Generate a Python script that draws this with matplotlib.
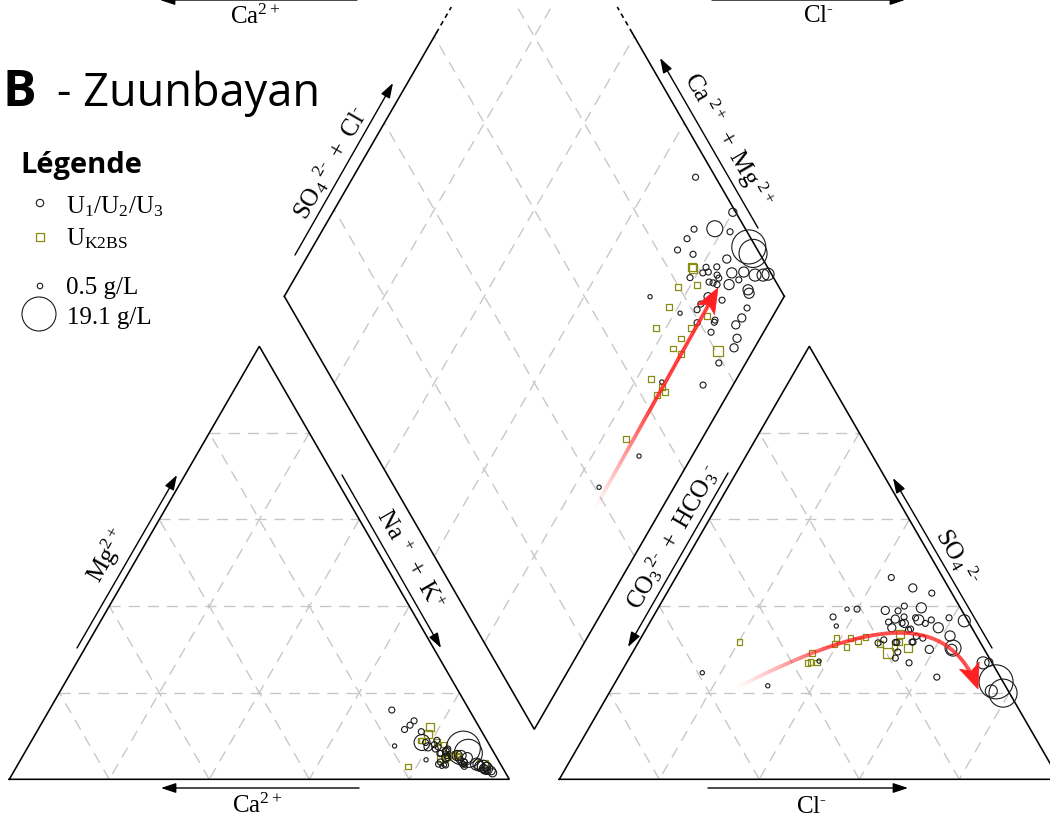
import numpy as np
import matplotlib
matplotlib.use("Agg")
import matplotlib.pyplot as plt
from matplotlib.collections import LineCollection
from matplotlib.patches import Polygon, Rectangle

plt.rcParams["mathtext.fontset"] = "custom"
plt.rcParams["mathtext.rm"] = "Liberation Serif"
plt.rcParams["mathtext.it"] = "Liberation Serif:italic"
plt.rcParams["mathtext.bf"] = "Liberation Serif:bold"

# ---------------- data (meq %) ----------------
# U1/U2/U3 samples (circles)
u_nak = [68.5, 80.0, 78.3, 74.2, 81.7, 73.9, 87.2, 88.8, 73.3, 76.9, 84.2, 81.0, 83.1, 81.0, 82.0, 79.0,
         84.1, 84.8, 86.8, 89.1, 91.7, 93.3, 94.2, 83.3, 84.2, 85.2, 87.6, 89.0, 92.0, 92.6, 84.8, 88.0,
         84.2, 73.2, 81.1, 84.1, 93.9, 94.0, 88.9, 89.0, 85.6, 93.6, 89.5, 95.4, 95.9, 94.6, 85.4, 94.0,
         89.4, 85.0]
u_mg = [16.0, 7.5, 8.5, 13.5, 7.0, 12.5, 7.2, 6.0, 11.5, 11.0, 6.5, 8.0, 6.0, 9.0, 7.5, 8.5,
        6.5, 5.5, 5.5, 5.0, 3.5, 3.0, 2.5, 6.0, 7.0, 5.0, 5.5, 4.0, 3.5, 3.0, 5.0, 4.5,
        4.0, 7.7, 4.5, 3.5, 2.0, 3.0, 3.5, 4.0, 3.3, 2.5, 3.0, 2.0, 1.5, 2.0, 3.3, 2.5,
        3.3, 3.0]
u_ca = [15.5, 12.5, 13.2, 12.3, 11.3, 13.6, 5.6, 5.2, 15.2, 12.1, 9.3, 11.0, 10.9, 10.0, 10.5, 12.5,
        9.4, 9.7, 7.7, 5.9, 4.8, 3.7, 3.3, 10.7, 8.8, 9.8, 6.9, 7.0, 4.5, 4.4, 10.2, 7.5,
        11.8, 19.1, 14.4, 12.4, 4.1, 3.0, 7.6, 7.0, 11.1, 3.9, 7.5, 2.6, 2.6, 3.4, 11.3, 3.5,
        7.3, 12.0]
u_so4 = [43.0, 27.0, 30.3, 46.6, 37.3, 38.9, 22.5, 19.9, 36.3, 36.1, 44.2, 37.5, 37.3, 31.7, 34.7, 31.6,
         32.6, 40.0, 39.6, 33.1, 20.4, 26.9, 36.6, 31.7, 23.6, 33.0, 36.8, 36.8, 30.0, 35.0, 39.0, 34.5,
         29.4, 35.4, 39.3, 32.2, 36.0, 30.0, 26.9, 31.6, 31.5, 36.0, 28.0, 37.0, 35.0, 39.3, 27.3, 37.5,
         21.6, 24.6]
u_cl = [53.0, 72.4, 63.6, 43.1, 59.3, 48.3, 76.1, 78.8, 47.7, 50.5, 48.6, 50.2, 52.6, 54.7, 52.9, 51.7,
        56.4, 49.0, 52.6, 61.6, 76.2, 71.3, 62.7, 54.9, 63.7, 54.9, 53.5, 56.0, 63.5, 58.3, 45.7, 52.6,
        53.0, 37.7, 37.9, 48.8, 55.2, 59.0, 56.5, 51.4, 48.0, 51.0, 53.2, 48.7, 49.0, 39.9, 38.3, 36.0,
        30.9, 16.3]
u_hco3 = [4.0, 0.6, 6.1, 10.3, 3.4, 12.8, 1.4, 1.3, 16.0, 13.4, 7.2, 12.3, 10.1, 13.6, 12.4, 16.7,
          11.0, 11.0, 7.8, 5.3, 3.4, 1.8, 0.7, 13.4, 12.7, 12.1, 9.7, 7.2, 6.5, 6.7, 15.3, 12.9,
          17.6, 26.9, 22.8, 19.0, 8.8, 11.0, 16.6, 17.0, 20.5, 13.0, 18.8, 14.3, 16.0, 20.8, 34.4, 26.5,
          47.5, 59.1]
u_tds = [0.6, 1.1, 4.2, 0.6, 0.6, 0.6, 19.1, 13.0, 0.6, 0.6, 1.1, 0.6, 0.6, 0.6, 0.6, 0.6,
         0.6, 0.6, 1.7, 1.7, 2.4, 2.4, 2.4, 0.6, 0.6, 0.6, 1.7, 0.6, 1.7, 1.7, 1.1, 0.6,
         0.6, 0.3, 0.3, 0.6, 0.6, 1.1, 0.6, 0.6, 0.6, 1.1, 0.6, 1.1, 1.1, 0.6, 0.3, 0.6,
         0.3, 0.3]

# U_K2BS samples (squares)
k_nak = [78.1, 78.5, 77.7, 81.2, 78.2, 78.0, 85.0, 86.8, 84.2, 83.8, 86.0, 93.0, 82.9, 85.9, 87.2, 84.8, 86.0]
k_mg = [12.0, 10.5, 9.0, 8.6, 3.0, 9.0, 5.0, 5.5, 6.0, 4.7, 6.0, 3.3, 8.0, 5.6, 5.1, 4.7, 5.5]
k_ca = [9.9, 11.0, 13.3, 10.2, 18.8, 13.0, 10.0, 7.7, 9.8, 11.5, 8.0, 3.7, 9.1, 8.5, 7.7, 10.5, 8.5]
k_so4 = [33.6, 30.3, 31.3, 31.7, 31.9, 31.3, 32.9, 30.6, 32.6, 32.6, 30.6, 29.2, 27.1, 26.9, 29.2, 31.7, 27.0]
k_cl = [51.3, 54.6, 48.5, 52.1, 43.8, 39.4, 44.8, 51.7, 41.9, 39.1, 42.1, 51.2, 36.7, 36.2, 35.9, 20.2, 38.0]
k_hco3 = [15.1, 15.1, 20.2, 16.2, 24.3, 29.3, 22.3, 17.7, 25.5, 28.3, 27.3, 19.6, 36.2, 36.9, 34.9, 48.1, 35.0]
k_tds = [1.1, 1.1, 0.5, 0.6, 0.5, 0.5, 0.5, 0.5, 0.5, 0.5, 0.5, 1.7, 0.5, 0.5, 0.5, 0.5, 0.5]

legend_tds = [0.5, 19.1]

# ---------------- geometry ----------------
H = np.sqrt(3) / 2
OFF = 1.1            # right triangle offset
DB = (1.05, 0.1)     # diamond bottom vertex
X0, Y0, S = 9.3, 779.3, 500.0
W_PX, H_PX = 1050, 821


def P(x, y):
    return ((x - X0) / S, (Y0 - y) / S)


def cation_xy(ca, mg, nak):
    mg = np.asarray(mg) / 100.0
    nak = np.asarray(nak) / 100.0
    return nak + mg / 2, mg * H


def anion_xy(cl, so4):
    cl = np.asarray(cl) / 100.0
    so4 = np.asarray(so4) / 100.0
    return OFF + cl + so4 / 2, so4 * H


def diamond_xy(nak, cl, so4):
    p = np.asarray(nak) / 100.0
    q = (np.asarray(cl) + np.asarray(so4)) / 100.0
    s = 1 - p
    return DB[0] + 0.5 * q - 0.5 * s, DB[1] + H * (q + s)


def size(tds):
    return 31.4 * np.asarray(tds)


fig = plt.figure(figsize=(W_PX / 100, H_PX / 100), dpi=100)
ax = fig.add_axes([0, 0, 1, 1])
ax.set_xlim(-X0 / S, (W_PX - X0) / S)
ax.set_ylim((Y0 - H_PX) / S, Y0 / S)
ax.axis("off")

GRID = dict(color="#c6c6c6", lw=0.95, ls=(0, (8.5, 6)))
EDGE = dict(color="black", lw=1.15)

# triangle grids and edges
for ox in (0.0, OFF):
    V = [np.array([ox, 0]), np.array([ox + 1, 0]), np.array([ox + 0.5, H])]
    segs = []
    for i in range(3):
        j, k = (i + 1) % 3, (i + 2) % 3
        for f in (0.2, 0.4, 0.6, 0.8):
            segs.append([f * V[i] + (1 - f) * V[j], f * V[i] + (1 - f) * V[k]])
    ax.add_collection(LineCollection(segs, colors=GRID["color"], linewidths=GRID["lw"],
                                     linestyles=[GRID["ls"]]))
    tri = np.array(V + [V[0]])
    ax.plot(tri[:, 0], tri[:, 1], solid_joinstyle="miter", **EDGE)

# diamond
B = np.array(DB)
R = B + np.array([0.5, H])
L = B + np.array([-0.5, H])
T = B + np.array([0, 2 * H])
v_top = (Y0 - 7) / S
v_solid = (Y0 - 33) / S
clip = Rectangle((-1, -1), 4, 1 + v_top, transform=ax.transData)
segs = []
for f in (0.2, 0.4, 0.6, 0.8):
    a = B + f * (R - B)
    segs.append([a, a + (L - B)])
    b = B + f * (L - B)
    segs.append([b, b + (R - B)])
lc = LineCollection(segs, colors=GRID["color"], linewidths=GRID["lw"], linestyles=[GRID["ls"]])
ax.add_collection(lc)
lc.set_clip_path(clip)


def along(P0, P1, v):
    t = (v - P0[1]) / (P1[1] - P0[1])
    return P0 + t * (P1 - P0)


for side in (L, R):
    ps = along(side, T, v_solid)
    pt = along(side, T, v_top)
    ax.plot([side[0], ps[0]], [side[1], ps[1]], **EDGE)
    ax.plot([ps[0], pt[0]], [ps[1], pt[1]], color="black", lw=1.15, ls=(0, (3, 2.5)))
ax.plot([L[0], B[0], R[0]], [L[1], B[1], R[1]], solid_joinstyle="miter", **EDGE)

# ---------------- points ----------------
OLIVE = "#8c8c14"
for xy_fun in ("cat", "an", "dia"):
    if xy_fun == "cat":
        ux, uy = cation_xy(u_ca, u_mg, u_nak)
        kx, ky = cation_xy(k_ca, k_mg, k_nak)
    elif xy_fun == "an":
        ux, uy = anion_xy(u_cl, u_so4)
        kx, ky = anion_xy(k_cl, k_so4)
    else:
        ux, uy = diamond_xy(u_nak, u_cl, u_so4)
        kx, ky = diamond_xy(k_nak, k_cl, k_so4)
    ax.scatter(kx, ky, s=size(k_tds), marker="s", facecolors="none", edgecolors=OLIVE,
               linewidths=0.9, zorder=4)
    ax.scatter(ux, uy, s=size(u_tds), marker="o", facecolors="none", edgecolors="#1a1a1a",
               linewidths=0.8, zorder=5)

# ---------------- red trend arrows ----------------
RED = (1.0, 0.13, 0.13)


def grad_line(pts, ramp, lw=2.7):
    pts = np.asarray(pts)
    d = np.r_[0, np.cumsum(np.hypot(*np.diff(pts, axis=0).T))]
    t = d / d[-1]
    segs = np.stack([pts[:-1], pts[1:]], axis=1)
    tm = (t[:-1] + t[1:]) / 2
    alpha = np.clip(tm / ramp, 0, 1) ** 1.2
    cols = [(RED[0], RED[1], RED[2], a) for a in alpha]
    ax.add_collection(LineCollection(segs, colors=cols, linewidths=lw, capstyle="butt", zorder=7))


def head(tip, direc, Lh=25, Wh=10, notch=6):
    tip = np.asarray(tip)
    d = np.asarray(direc) / np.linalg.norm(direc)
    n = np.array([-d[1], d[0]])
    Lh, Wh, notch = Lh / S, Wh / S, notch / S
    pts = [tip, tip - Lh * d + Wh * n, tip - (Lh - notch) * d, tip - Lh * d - Wh * n]
    ax.add_patch(Polygon(pts, closed=True, facecolor=RED, edgecolor=RED, lw=0.5, zorder=8))


# diamond arrow (straight)
a0 = np.array(P(594, 510))
a1 = np.array(P(718, 288))
dvec = (a1 - a0) / np.linalg.norm(a1 - a0)
line_end = a1 - dvec * 18 / S
tt = np.linspace(0, 1, 200)[:, None]
grad_line(a0 + tt * (line_end - a0), ramp=0.5)
head(a1, dvec)

# anion arrow (curved, cubic Bezier)
c0, c1, c2, c3 = [np.array(P(*q)) for q in [(736, 688), (850, 630), (945, 600), (978, 689)]]
tt = np.linspace(0, 0.93, 300)[:, None]
curve = (1 - tt) ** 3 * c0 + 3 * (1 - tt) ** 2 * tt * c1 + 3 * (1 - tt) * tt ** 2 * c2 + tt ** 3 * c3
grad_line(curve, ramp=0.42)
head(c3, c3 - c2, Lh=25, Wh=10.5)

# ---------------- axis arrows and labels ----------------
LBL = dict(fontsize=18, color="black", ha="center", va="center")


def edge_arrow(x0, y0, x1, y1):
    ax.annotate("", xy=P(x1, y1), xytext=P(x0, y0),
                arrowprops=dict(arrowstyle="-|>,head_length=0.9,head_width=0.3", lw=1.0,
                                color="black", shrinkA=0, shrinkB=0))


MINUS = r"\text{-}"
edge_arrow(77, 648, 177, 475)
ax.text(*P(108, 556), r"$\mathrm{Mg}^{2+}$", rotation=60, **LBL)
edge_arrow(342, 475, 441, 648)
ax.text(*P(410, 560), r"$\mathrm{Na}^{\ +}\ +\ \mathrm{K}^{+}$", rotation=-60, **LBL)
edge_arrow(359, 788, 161, 788)
ax.text(*P(257, 806), r"$\mathrm{Ca}^{2+}$", **LBL)

edge_arrow(728, 473, 628, 647)
ax.text(*P(673, 537), r"$\mathrm{CO}_3{}^{2" + MINUS + r"}\ +\ \mathrm{HCO}_3{}^{" + MINUS + "}$",
        rotation=60, **LBL)
edge_arrow(992, 648, 893, 478)
ax.text(*P(958, 557), r"$\mathrm{SO}_4{}^{\ 2" + MINUS + "}$", rotation=-60, **LBL)
edge_arrow(708, 788, 908, 788)
ax.text(*P(811, 806), r"$\mathrm{Cl}^{" + MINUS + "}$", **LBL)

edge_arrow(295, 255, 393, 83)
ax.text(*P(330, 163), r"$\mathrm{SO}_4{}^{\ 2" + MINUS + r"}\ +\ \mathrm{Cl}^{" + MINUS + "}$",
        rotation=60, **LBL)
edge_arrow(758, 228, 660, 58)
ax.text(*P(728, 140), r"$\mathrm{Ca}^{\ 2+}\ +\ \mathrm{Mg}^{\ 2+}$", rotation=-60, **LBL)

# labels of the panel above (cut off)
edge_arrow(357, 0, 160, 0)
ax.text(*P(255, 17), r"$\mathrm{Ca}^{2+}$", **LBL)
edge_arrow(712, 0, 905, 0)
ax.text(*P(818, 15), r"$\mathrm{Cl}^{" + MINUS + "}$", **LBL)

# ---------------- title and legend ----------------
ax.text(*P(3, 106), "B", fontsize=36, fontweight="bold", family="Open Sans", ha="left", va="baseline")
ax.text(*P(57, 106), "- Zuunbayan", fontsize=32.5, family="Open Sans", ha="left", va="baseline")
ax.text(*P(20, 173), "Légende", fontsize=21, fontweight="bold", family="Open Sans", ha="left",
        va="baseline")

ax.scatter(*P(40, 203), s=size(0.9), marker="o", facecolors="none", edgecolors="#1a1a1a", linewidths=0.8)
ax.text(*P(66, 213), r"$\mathrm{U}_1/\mathrm{U}_2/\mathrm{U}_3$", fontsize=18, ha="left", va="baseline")
ax.scatter(*P(40, 237), s=size(0.9), marker="s", facecolors="none", edgecolors=OLIVE, linewidths=0.9)
ax.text(*P(66, 245), r"$\mathrm{U}_{\mathrm{K2BS}}$", fontsize=18, ha="left", va="baseline")
ax.scatter(*P(40, 286), s=size(legend_tds[0]), marker="o", facecolors="none", edgecolors="#1a1a1a",
           linewidths=0.8)
ax.text(*P(66, 294), f"{legend_tds[0]} g/L", fontsize=18, family="Liberation Serif", ha="left",
        va="baseline")
ax.scatter(*P(39, 314), s=size(legend_tds[1]), marker="o", facecolors="none", edgecolors="#1a1a1a",
           linewidths=0.8)
ax.text(*P(67, 324), f"{legend_tds[1]} g/L", fontsize=18, family="Liberation Serif", ha="left",
        va="baseline")

fig.savefig("out.png", dpi=100)
